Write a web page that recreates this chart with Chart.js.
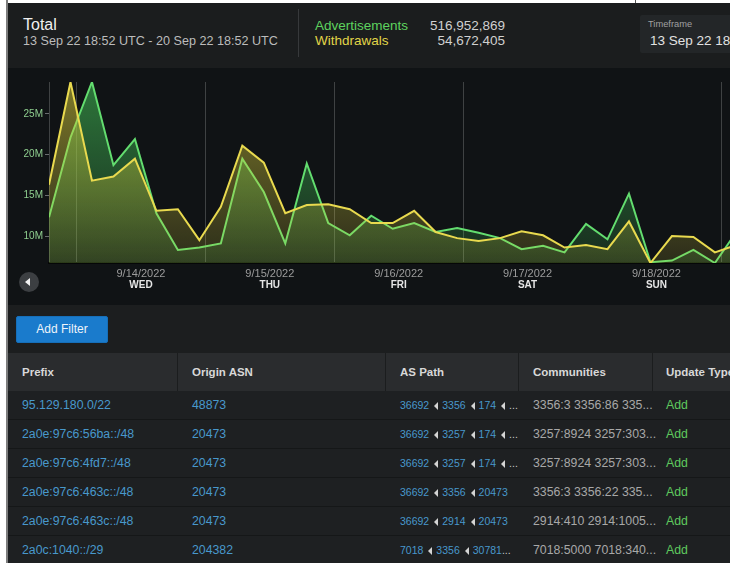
<!DOCTYPE html>
<html><head><meta charset="utf-8">
<script src="https://cdn.jsdelivr.net/npm/chart.js@4"></script>
<style>
html,body{margin:0;padding:0;background:#fff;width:730px;height:563px;overflow:hidden;font-family:"Liberation Sans",Arial,Helvetica,sans-serif;}
#wrap{position:absolute;left:0;top:0;width:730px;height:563px;overflow:hidden;}
.abs{position:absolute;white-space:nowrap;}
.lb{line-height:1;}
#lborder{left:6px;top:0;width:2px;height:563px;background:#7d7d7d;}
#header{left:8px;top:3px;width:722px;height:65px;background:#1b1d1e;}
#chartbg{left:8px;top:68px;width:722px;height:237px;background:#101315;}
#chartbox{left:8px;top:68px;width:752px;height:237px;}
#filter{left:8px;top:305px;width:722px;height:48px;background:#1c1e1f;}
#btn{left:16px;top:316px;width:90px;height:25px;background:#1a7bcc;border:1px solid #166fb9;border-radius:2px;color:#eef4fa;font-size:12px;line-height:25px;text-align:center;}
#thead{left:8px;top:353px;width:722px;height:38px;background:#2a2c2e;}
.th{color:#d8d8d8;font-weight:bold;font-size:11.5px;line-height:38px;top:353px;}
.sep{top:353px;width:1px;height:38px;background:#1b1d1e;}
.row{left:8px;width:722px;height:28px;background:#1e2022;border-bottom:1px solid #151718;}
.td{font-size:12.3px;line-height:29px;}
.link{color:#4898cc;}
.comm{color:#a8a8a8;}
.add{color:#5ec95e;}
.path{font-size:10.5px;line-height:29px;color:#4898cc;}
.tri{display:inline-block;width:0;height:0;border-top:4px solid transparent;border-bottom:4px solid transparent;border-right:4.5px solid #d4d4d4;margin:0 4px 0 5px;vertical-align:-1px;}
.ell{color:#c8c8c8;}
#arrow{left:19px;top:272px;width:20px;height:20px;border-radius:50%;background:#3c3f42;}
#arrow div{position:absolute;left:6px;top:6px;width:0;height:0;border-top:4px solid transparent;border-bottom:4px solid transparent;border-right:5px solid #f2f2f2;}
</style>
</head><body>
<div id="wrap">
<div class="abs" id="lborder"></div>
<div class="abs" style="left:635px;top:0;width:1px;height:4px;background:#555;"></div>
<div class="abs" id="header"></div>
<div class="abs lb" style="left:23px;top:16.5px;font-size:16px;color:#f0f0f0;">Total</div>
<div class="abs lb" style="left:23px;top:35.4px;font-size:12.6px;color:#bcbcbc;">13 Sep 22 18:52 UTC - 20 Sep 22 18:52 UTC</div>
<div class="abs" style="left:298px;top:9px;width:1px;height:48px;background:#37393b;"></div>
<div class="abs lb" style="left:315px;top:18.6px;font-size:13.5px;color:#5ed35e;">Advertisements</div>
<div class="abs lb" style="left:315px;top:34.1px;font-size:13.5px;color:#e1d548;">Withdrawals</div>
<div class="abs lb" id="advTotal" style="left:405px;width:100px;text-align:right;top:18.6px;font-size:13.5px;color:#d0d0d0;"></div>
<div class="abs lb" id="wdTotal" style="left:405px;width:100px;text-align:right;top:34.1px;font-size:13.5px;color:#d0d0d0;"></div>
<div class="abs" style="left:640px;top:15px;width:100px;height:38px;background:#232628;border-radius:2px;"></div>
<div class="abs lb" style="left:648px;top:20.3px;font-size:9.3px;color:#a0a0a0;">Timeframe</div>
<div class="abs lb" style="left:650px;top:34.1px;font-size:13.5px;color:#e2e2e2;">13 Sep 22 18:52 UTC - 20 Sep 22 18:52 UTC</div>

<div class="abs" id="chartbg"></div>
<div class="abs" id="chartbox"><canvas id="c"></canvas></div>
<div class="abs" id="arrow"><div></div></div>

<div class="abs" id="filter"></div>
<div class="abs" id="btn">Add Filter</div>
<div class="abs" id="thead"></div>
<div id="table"></div>
</div>
<script>
// ---- chart data (values in millions) ----
const pointIndex = [0,1,2,3,4,5,6,7,8,9,10,11,12,13,14,15,16,17,18,19,20,21,22,23,24,25,26,27,28,29,30,31,32];
const advertisements = [12.3,22.1,28.9,18.7,21.9,12.8,8.3,8.6,9.1,19.5,15.4,9.1,18.9,11.6,10.1,12.5,10.9,11.6,10.5,11.0,10.4,9.75,8.4,8.8,8.0,11.5,9.6,15.2,6.8,7.0,8.3,6.7,10.5];
const withdrawals    = [16.3,28.9,16.8,17.3,19.5,13.1,13.3,9.5,13.6,21.1,19.0,12.8,13.8,13.9,13.3,11.6,11.6,13.1,10.5,9.75,9.4,9.75,10.6,10.1,8.6,8.9,8.4,11.8,6.7,10.0,9.9,8.0,8.9];
const yTickValues = [10,15,20,25];
const dateTickPos = [4.28,10.28,16.28,22.28,28.28];
const dateLabels = ['9/14/2022','9/15/2022','9/16/2022','9/17/2022','9/18/2022'];
const dayLabels = ['WED','THU','FRI','SAT','SUN'];
const dividerPos = [0,1.29,7.29,13.29,19.29,31.29];
const totals = {adv:'516,952,869', wd:'54,672,405'};

// ---- table data ----
const colNames = ['Prefix','Origin ASN','AS Path','Communities','Update Type'];
const prefixes = ['95.129.180.0/22','2a0e:97c6:56ba::/48','2a0e:97c6:4fd7::/48','2a0e:97c6:463c::/48','2a0e:97c6:463c::/48','2a0c:1040::/29'];
const originAsns = ['48873','20473','20473','20473','20473','204382'];
const asPaths = [['36692','3356','174','…'],['36692','3257','174','…'],['36692','3257','174','…'],['36692','3356','20473'],['36692','2914','20473'],['7018','3356','30781…']];
const communities = ['3356:3 3356:86 335...','3257:8924 3257:303...','3257:8924 3257:303...','3356:3 3356:22 335...','2914:410 2914:1005...','7018:5000 7018:340...'];
const updateTypes = ['Add','Add','Add','Add','Add','Add'];

document.getElementById('advTotal').textContent = totals.adv;
document.getElementById('wdTotal').textContent = totals.wd;

// table
const colText = [22,192,400,533,666];
const colSep = [177,385,518,652];
let html = '';
colNames.forEach((n,i)=>{ html += `<div class="abs th" style="left:${colText[i]}px">${n}</div>`; });
colSep.forEach(x=>{ html += `<div class="abs sep" style="left:${x}px"></div>`; });
prefixes.forEach((p,r)=>{
  const top = 391 + r*29;
  html += `<div class="abs row" style="top:${top}px"></div>`;
  html += `<div class="abs td link" style="left:22px;top:${top}px">${p}</div>`;
  html += `<div class="abs td link" style="left:192px;top:${top}px">${originAsns[r]}</div>`;
  const parts = asPaths[r].map(s=>{
    if (s==='…') return '<span class="ell">...</span>';
    if (s.endsWith('…')) return s.slice(0,-1)+'<span class="ell">...</span>';
    return s;
  });
  html += `<div class="abs path" style="left:400px;top:${top}px">${parts.join('<span class="tri"></span>')}</div>`;
  html += `<div class="abs td comm" style="left:533px;top:${top}px">${communities[r]}</div>`;
  html += `<div class="abs td add" style="left:666px;top:${top}px">${updateTypes[r]}</div>`;
});
document.getElementById('table').innerHTML = html;

// chart
const FAM = '"Liberation Sans", Arial, sans-serif';
const XMAX = 33.1;
function grad(r,g,b,a1,a2){
  return (ctx)=>{
    const ch = ctx.chart, ca = ch.chartArea;
    if(!ca) return `rgba(${r},${g},${b},${a1})`;
    const gr = ch.ctx.createLinearGradient(0,ca.top,0,ca.bottom);
    gr.addColorStop(0,`rgba(${r},${g},${b},${a1})`);
    gr.addColorStop(1,`rgba(${r},${g},${b},${a2})`);
    return gr;
  };
}
const setTicks = arr => s => { s.ticks = arr.map(v=>({value:v})); };

new Chart(document.getElementById('c'), {
  type:'line',
  data:{
    datasets:[
      {label:'Withdrawals', data: pointIndex.map((x,i)=>({x, y:withdrawals[i]})),
       borderColor:'#e9da4f', borderWidth:2, pointRadius:0, tension:0,
       fill:'start', backgroundColor: grad(215,205,60,0.55,0.14)},
      {label:'Advertisements', data: pointIndex.map((x,i)=>({x, y:advertisements[i]})),
       borderColor:'#63dd6f', borderWidth:2, pointRadius:0, tension:0,
       fill:'start', backgroundColor: grad(70,200,90,0.55,0.14)}
    ]
  },
  options:{
    responsive:true, maintainAspectRatio:false, animation:false,
    layout:{padding:{top:14,bottom:10,left:0,right:0}},
    plugins:{legend:{display:false}, tooltip:{enabled:false}},
    scales:{
      x:{type:'linear', position:'bottom', min:0, max:XMAX, weight:1,
         afterBuildTicks: setTicks(dateTickPos),
         ticks:{callback:(v,i)=>dateLabels[i], color:'#9c9c9c', font:{size:11,family:FAM}, padding:4, autoSkip:false, maxRotation:0, minRotation:0},
         grid:{display:false, drawTicks:false},
         border:{display:true, color:'#050607', width:2},
         afterFit:s=>{s.height=16;}},
      xDay:{type:'linear', position:'bottom', min:0, max:XMAX, weight:2,
         afterBuildTicks: setTicks(dateTickPos),
         ticks:{callback:(v,i)=>dayLabels[i], color:'#e6e6e6', font:{size:10,weight:'bold',family:FAM}, padding:0, autoSkip:false, maxRotation:0, minRotation:0},
         grid:{display:false, drawTicks:false},
         border:{display:false},
         afterFit:s=>{s.height=16;}},
      xGrid:{type:'linear', position:'top', min:0, max:XMAX,
         afterBuildTicks: setTicks(dividerPos),
         ticks:{display:false},
         grid:{display:true, color:'rgba(255,255,255,0.2)', lineWidth:1, drawTicks:false},
         border:{display:false},
         afterFit:s=>{s.height=0;}},
      y:{type:'linear', min:6.7, max:28.9,
         afterBuildTicks: setTicks(yTickValues),
         ticks:{callback:v=>v+'M', color:'#8fcf8f', font:{size:10,family:FAM}, padding:2},
         grid:{display:true, drawOnChartArea:false, drawTicks:true, tickLength:4, color:'#6a6d70'},
         border:{display:false},
         afterFit:s=>{s.width=41;}}
    }
  }
});
</script>
</body></html>
